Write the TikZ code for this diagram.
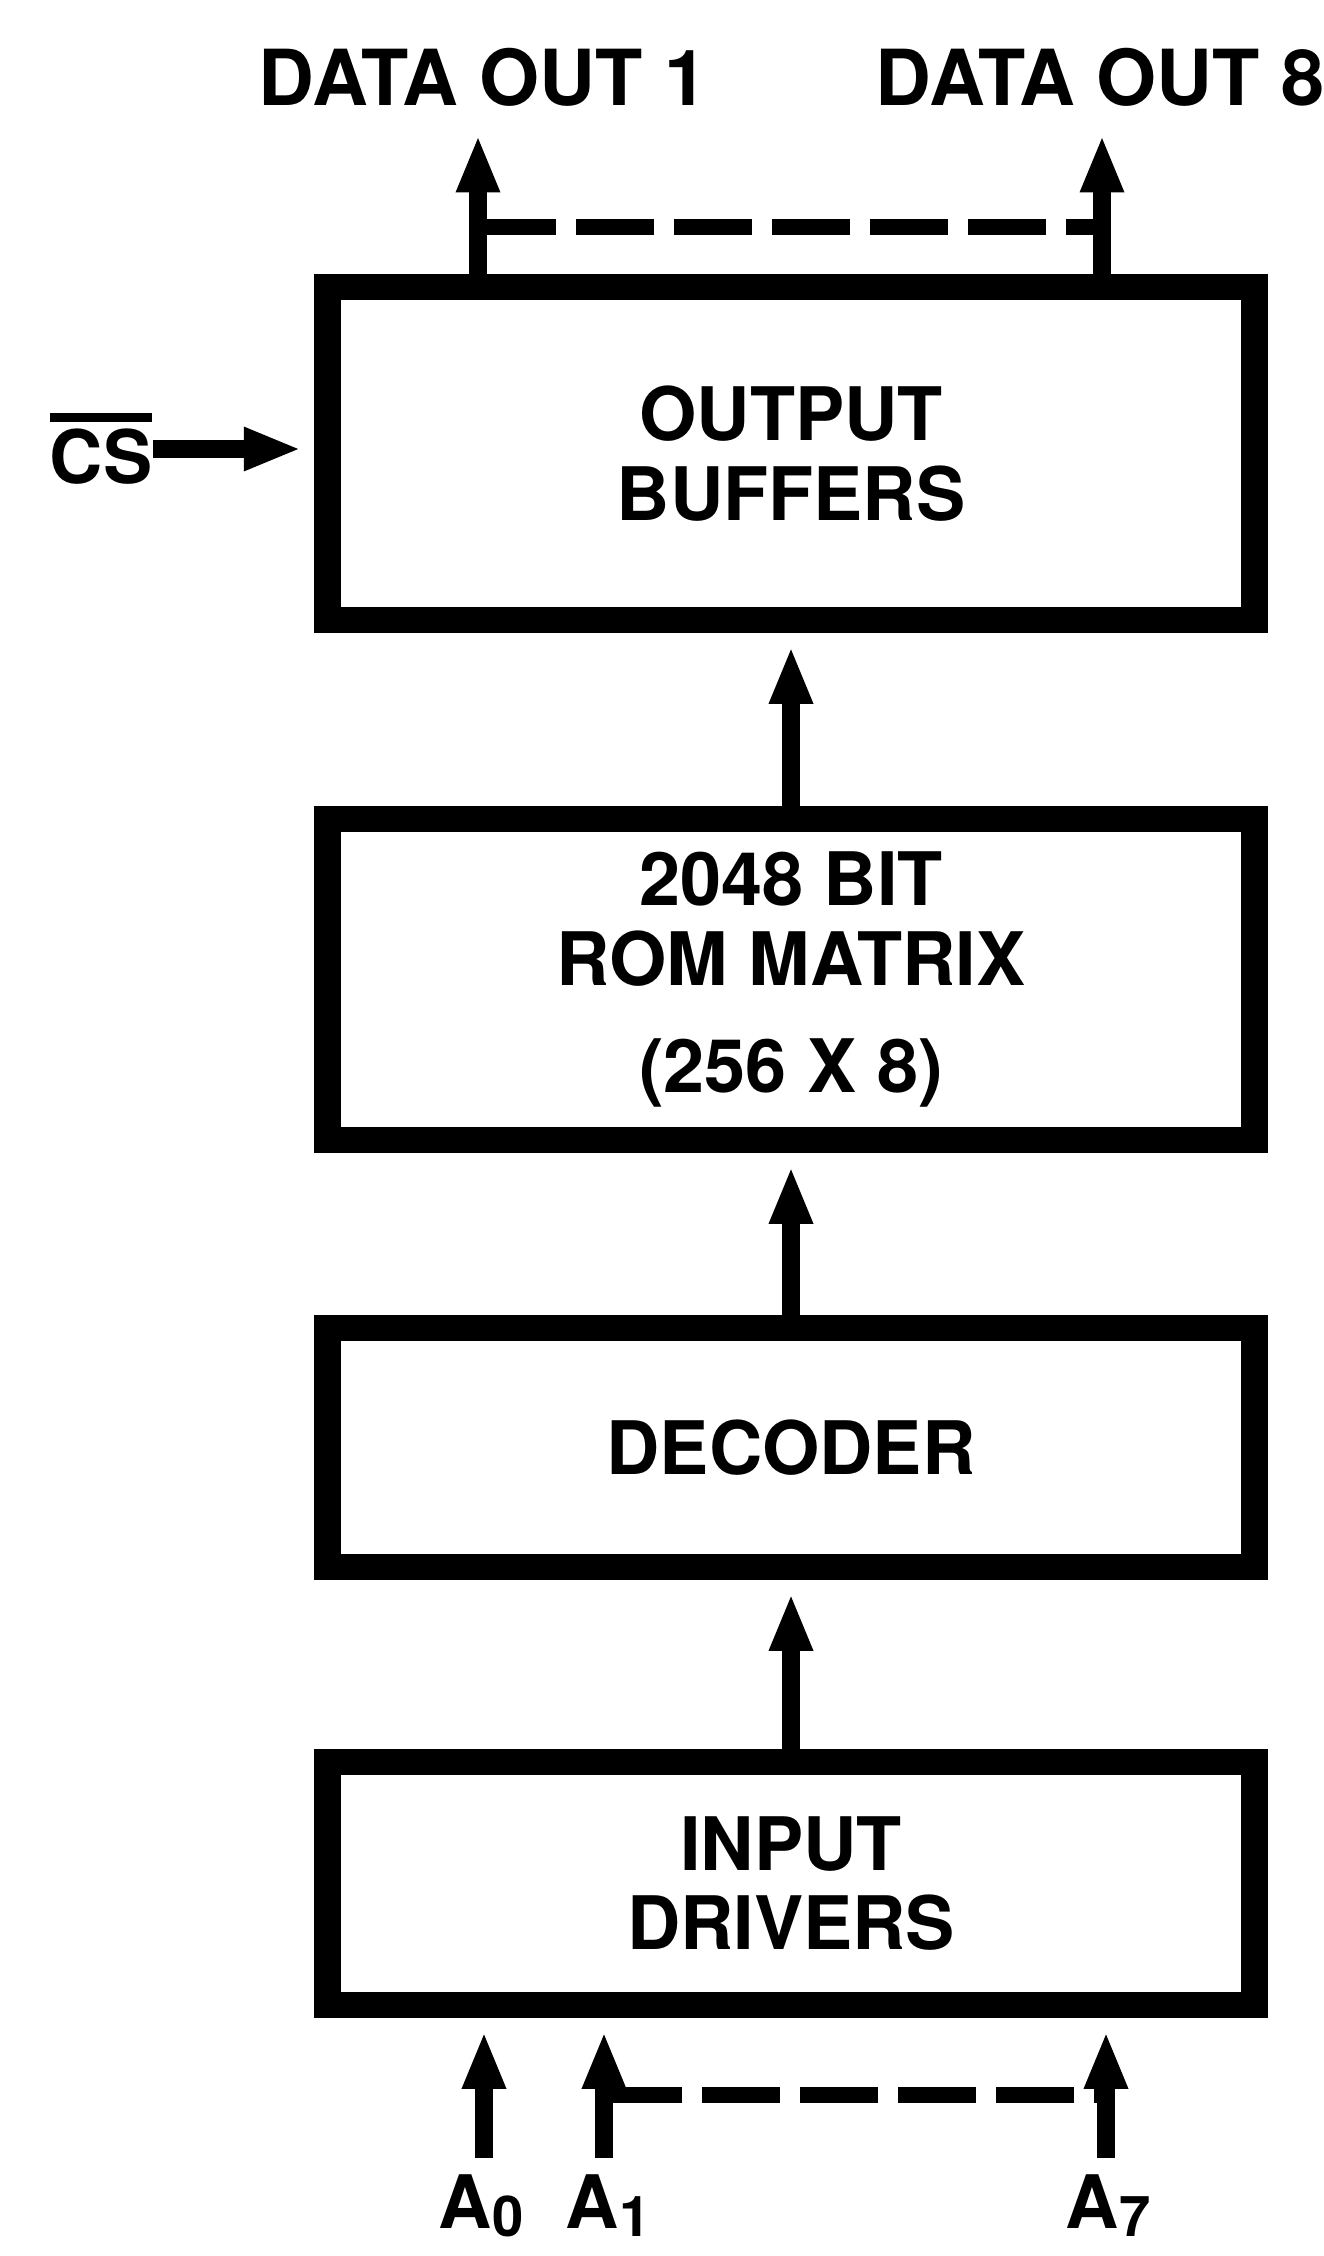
\documentclass[tikz,border=0pt]{standalone}
\usepackage{fontspec}
\setmainfont{TeX Gyre Heros}
\usetikzlibrary{arrows.meta,positioning}
\newcommand{\addr}[1]{A\raisebox{-5pt}{\fontsize{32}{32}\selectfont #1}}
\newcommand{\barsig}[1]{\vbox{\hrule height 5pt\kern 4pt\hbox{#1}}}

\begin{document}
\begin{tikzpicture}[x=0.02cm,y=-0.02cm,
  romblock/.style={draw,line width=15pt,minimum width=18.54cm,align=center,
    font=\fontsize{42}{45.5}\selectfont\bfseries,inner sep=0pt},
  romlabel/.style={font=\fontsize{42}{45.5}\selectfont\bfseries,inner sep=0pt},
  romarr/.style={-{Triangle[length=1.15cm,width=0.8cm]},line width=10pt},
  rombus/.style={line width=9pt,dash pattern=on 1.56cm off 0.4cm}
]
  \useasboundingbox (0,0) rectangle (1324,2256);
  % Blocks
  \node[romblock,minimum height=6.66cm] (buf) at (791,453.5) {OUTPUT\\BUFFERS};
  \node[romblock,minimum height=6.42cm] (rom) at (791,979.5) {2048 BIT\\ROM MATRIX\\[15pt](256 X 8)};
  \node[romblock,minimum height=4.78cm] (dec) at (791,1447.5) {DECODER};
  \node[romblock,minimum height=4.86cm] (drv) at (791,1883.5) {INPUT\\DRIVERS};
  \draw[romarr,shorten >=7.5pt] (rom.north) -- (buf.south);
  \draw[romarr,shorten >=7.5pt] (dec.north) -- (rom.south);
  \draw[romarr,shorten >=7.5pt] (drv.north) -- (dec.south);
  % Chip select
  \node[romlabel] (cs) at (101,449) {\barsig{CS}};
  \draw[romarr,shorten >=7.5pt] (cs.east) -- (cs.east -| buf.west);
  % Data outputs
  \coordinate (out1) at (478,135);
  \coordinate (out8) at (1102,135);
  \coordinate (topbus) at (0,227);
  \node[romlabel,font=\fontsize{44}{46}\selectfont\bfseries,anchor=base] (out1lbl) at (483,105) {DATA OUT 1};
  \node[romlabel,font=\fontsize{44}{46}\selectfont\bfseries,anchor=base] (out8lbl) at (1100,105) {DATA OUT 8};
  \draw[romarr] (buf.north -| out1) -- (out1);
  \draw[romarr] (buf.north -| out8) -- (out8);
  \draw[rombus] (out1 |- topbus) -- (out8 |- topbus);
  % Address inputs
  \coordinate (a0) at (484,2158);
  \coordinate (a1) at (604,2158);
  \coordinate (a7) at (1106,2158);
  \coordinate (botbus) at (0,2095);
  \draw[romarr,shorten >=7.5pt] (a0) -- (drv.south -| a0);
  \draw[romarr,shorten >=7.5pt] (a1) -- (drv.south -| a1);
  \draw[romarr,shorten >=7.5pt] (a7) -- (drv.south -| a7);
  \draw[rombus] (a1 |- botbus) -- (a7 |- botbus);
  \node[romlabel,anchor=base] (a0lbl) at (481,2228) {\addr{0}};
  \node[romlabel,anchor=base] (a1lbl) at (608,2228) {\addr{1}};
  \node[romlabel,anchor=base] (a7lbl) at (1108,2228) {\addr{7}};
\end{tikzpicture}
\end{document}
